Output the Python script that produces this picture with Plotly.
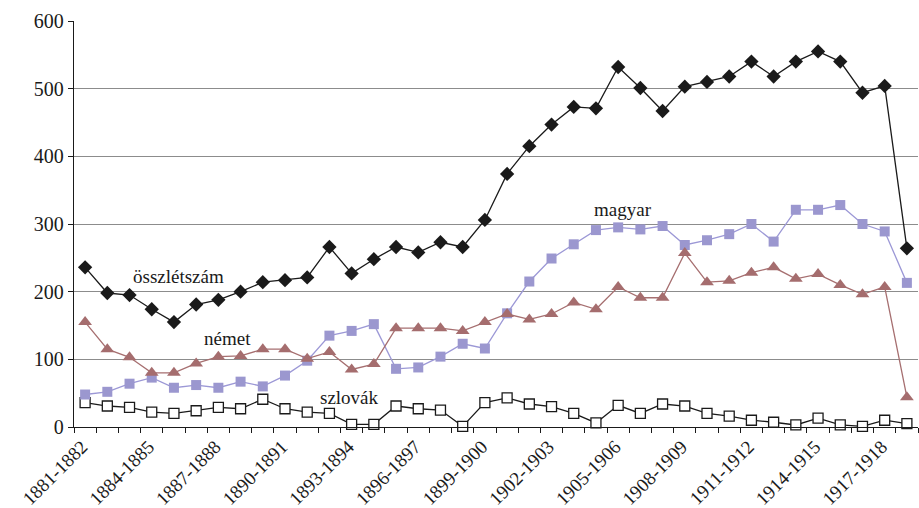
import plotly.graph_objects as go

years = [f"{y}-{y+1}" for y in range(1881, 1919)]

osszletszam = [236, 198, 195, 174, 155, 181, 188, 200, 214, 217, 221, 266, 227, 248, 266, 258,
               273, 266, 306, 374, 415, 447, 473, 471, 532, 501, 467, 503, 510, 518, 540, 518,
               540, 555, 540, 494, 504, 264]
magyar = [48, 52, 64, 73, 58, 62, 58, 67, 60, 76, 98, 135, 142, 152, 86, 88,
          104, 123, 116, 168, 215, 249, 270, 291, 295, 292, 297, 269, 276, 285, 300, 274,
          321, 321, 328, 300, 289, 213]
nemet = [155, 115, 103, 80, 80, 94, 104, 105, 115, 115, 101, 111, 85, 93, 146, 146,
         146, 142, 155, 167, 159, 167, 184, 174, 207, 191, 191, 257, 214, 216, 228, 236,
         219, 226, 210, 196, 207, 44]
szlovak = [36, 31, 29, 22, 20, 24, 29, 27, 41, 27, 22, 20, 4, 4, 31, 27,
           25, 1, 36, 43, 34, 30, 20, 6, 32, 20, 34, 31, 20, 16, 10, 7,
           3, 13, 3, 1, 10, 5]

label_every = 3
ticktext = [y if i % label_every == 0 else "" for i, y in enumerate(years)]

FONT = "Liberation Serif"

fig = go.Figure()
fig.add_trace(go.Scatter(
    x=years, y=szlovak, mode="lines+markers", name="szlovák",
    line=dict(color="#1a1a1a", width=1.3),
    marker=dict(symbol="square", size=10, color="white", line=dict(color="#1a1a1a", width=1.3)),
    cliponaxis=False))
fig.add_trace(go.Scatter(
    x=years, y=magyar, mode="lines+markers", name="magyar",
    line=dict(color="#9c98d6", width=1.3),
    marker=dict(symbol="square", size=10, color="#9b97cf"),
    cliponaxis=False))
fig.add_trace(go.Scatter(
    x=years, y=nemet, mode="lines+markers", name="német",
    line=dict(color="#a66f70", width=1.3),
    marker=dict(symbol="triangle-up", size=12, color="#a56d6e"),
    cliponaxis=False))
fig.add_trace(go.Scatter(
    x=years, y=osszletszam, mode="lines+markers", name="összlétszám",
    line=dict(color="#1a1a1a", width=1.3),
    marker=dict(symbol="diamond", size=11, color="#1a1a1a"),
    cliponaxis=False))

# label positions (category index, value)
annotations = [
    dict(text="összlétszám", x=4.2, y=222),
    dict(text="német", x=6.4, y=131),
    dict(text="magyar", x=24.2, y=321),
    dict(text="szlovák", x=11.9, y=43),
]
for a in annotations:
    fig.add_annotation(x=a["x"], y=a["y"], text=a["text"], showarrow=False,
                       font=dict(family=FONT, size=19, color="#1a1a1a"))

fig.update_layout(
    width=919, height=508,
    margin=dict(l=74, r=1, t=21, b=81),
    paper_bgcolor="white", plot_bgcolor="white",
    showlegend=False,
    font=dict(family=FONT, size=19, color="#1a1a1a"),
    xaxis=dict(
        type="category", range=[-0.5, len(years) - 0.5], automargin=False,
        tickmode="array", tickvals=years, ticktext=ticktext,
        tickson="boundaries", ticks="outside", ticklen=5, tickcolor="#1a1a1a",
        tickangle=-45, ticklabelshift=-3,
        showgrid=False, showline=True, linecolor="#1a1a1a", linewidth=1.3,
        zeroline=False, tickfont=dict(family=FONT, size=19, color="#1a1a1a"),
    ),
    yaxis=dict(
        range=[0, 600], dtick=100, tick0=0, automargin=False,
        showgrid=True, gridcolor="#8c8c8c", gridwidth=1,
        ticks="outside", ticklen=5, tickcolor="#1a1a1a",
        showline=True, linecolor="#1a1a1a", linewidth=1.3, zeroline=False,
        tickfont=dict(family=FONT, size=20, color="#1a1a1a"),
    ),
)

fig.write_html("out.html", config={"displayModeBar": False},
               post_script="document.body.style.margin='0';document.body.style.overflow='hidden';")
